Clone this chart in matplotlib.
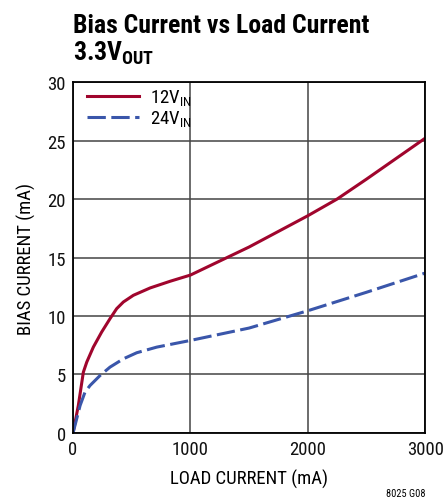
import numpy as np
import matplotlib.pyplot as plt

# values
load_12 = [0, 45, 88, 117, 173, 244, 315, 372, 429, 514, 657, 827, 1000,
           1500, 2000, 2250, 2500, 3000]
bias_12 = [0, 2.34, 5.2, 6.06, 7.34, 8.63, 9.77, 10.63, 11.2, 11.77, 12.4, 12.97, 13.5,
           15.9, 18.57, 20.0, 21.7, 25.2]
load_24 = [0, 31, 60, 102, 145, 230, 315, 429, 543, 713, 1000, 1500, 2000, 2500, 3000]
bias_24 = [0, 1.2, 2.34, 3.49, 4.06, 4.91, 5.63, 6.34, 6.86, 7.34, 7.91, 8.97, 10.45, 12.03, 13.67]
xticks = [0, 1000, 2000, 3000]
yticks = [0, 5, 10, 15, 20, 25, 30]

plt.rcParams['font.family'] = ['Roboto Condensed', 'DejaVu Sans']
plt.rcParams['mathtext.fontset'] = 'custom'
plt.rcParams['mathtext.rm'] = 'Roboto Condensed'
plt.rcParams['mathtext.bf'] = 'Roboto Condensed:bold'

fig = plt.figure(figsize=(4.48, 5.02), dpi=100)
ax = fig.add_axes([0.163, 0.1355, 0.786, 0.699])

ax.plot(load_12, bias_12, color='#a0052d', lw=2.2, label='12V$_{\\mathregular{IN}}$',
        solid_joinstyle='round')
ax.plot(load_24, bias_24, color='#3a56aa', lw=2.2, dashes=(6, 1.8), label='24V$_{\\mathregular{IN}}$')

ax.set_xlim(0, 3000)
ax.set_ylim(0, 30)
ax.set_xticks(xticks)
ax.set_yticks(yticks)
ax.tick_params(length=0, labelsize=13.5, pad=5, labelcolor='#111111')
ax.grid(True, color='#444444', lw=1.1)
for s in ax.spines.values():
    s.set_linewidth(1.3)

ax.set_xlabel('LOAD CURRENT (mA)', fontsize=13.5, labelpad=8)
ax.set_ylabel('BIAS CURRENT (mA)', fontsize=13.5, labelpad=8)

leg = ax.legend(loc='upper left', bbox_to_anchor=(0.015, 1.008), frameon=False,
                fontsize=13.5, handlelength=2.8, borderaxespad=0.05,
                labelspacing=0.05, handletextpad=0.6)

fig.text(0.163, 0.935, 'Bias Current vs Load Current', fontsize=18.5, fontweight='bold')
fig.text(0.163, 0.88, '3.3V$_{\\mathbf{OUT}}$', fontsize=18.5, fontweight='bold')
fig.text(0.95, 0.01, '8025 G08', fontsize=7.5, ha='right')

fig.savefig('out.png', dpi=100)
